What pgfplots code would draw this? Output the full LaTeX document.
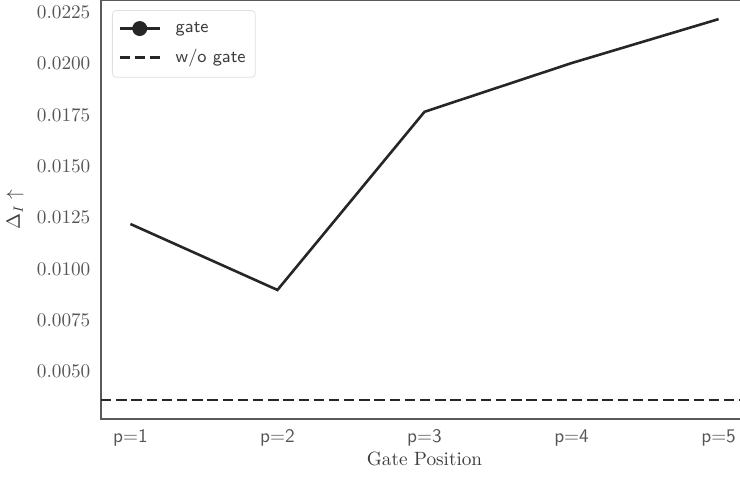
\documentclass[border=0pt]{standalone}
\usepackage{pgfplots}
\pgfplotsset{compat=1.18}
\usetikzlibrary{calc}
\definecolor{linec}{RGB}{38,38,38}
\definecolor{tickc}{RGB}{85,85,85}
\definecolor{labc}{RGB}{60,60,60}
\definecolor{spinec}{RGB}{90,90,90}
\begin{document}
\begin{tikzpicture}
\begin{axis}[
  scale only axis,
  width=336.44pt, height=217.88pt,
  xmin=0.8, xmax=5.2,
  ymin=0.0027, ymax=0.02309,
  axis line style={spinec, line width=0.7pt},
  tick style={draw=none},
  xtick={1,2,3,4,5},
  xticklabels={p=1,p=2,p=3,p=4,p=5},
  x tick label style={font=\sffamily, text=tickc, yshift=-2pt},
  ytick={0.005,0.0075,0.01,0.0125,0.015,0.0175,0.02,0.0225},
  scaled y ticks=false,
  y tick label style={text=tickc, xshift=-2pt, /pgf/number format/fixed, /pgf/number format/fixed zerofill, /pgf/number format/precision=4},
  xlabel={Gate Position},
  ylabel={$\Delta_I\uparrow$},
  xlabel style={text=labc, yshift=4pt},
  ylabel style={text=labc},
  legend style={at={(0.017,0.976)}, anchor=north west, draw=gray!25, rounded corners=2pt,
    font=\sffamily\fontsize{9.3}{11.5}\selectfont, text=labc, row sep=3.5pt, inner xsep=3pt, inner ysep=4pt,
    /tikz/every odd column/.append style={column sep=5.5pt}},
  legend cell align=left,
]
\addplot[linec, line width=1.35pt,
  legend image code/.code={\draw[linec, line width=1.35pt] (0cm,0cm) -- (21pt,0cm); \fill[linec] (10.5pt,0cm) circle (3.2pt);}]
  coordinates {(1,0.01219) (2,0.00898) (3,0.01765) (4,0.02002) (5,0.02216)};
\addlegendentry{gate}
\addplot[linec, line width=1.45pt, dash pattern=on 5.4pt off 2.5pt,
  legend image code/.code={\draw[linec, line width=1.45pt, dash pattern=on 5.4pt off 2.5pt] (0cm,0cm) -- (21pt,0cm);}]
  coordinates {(0.8,0.00363) (5.2,0.00363)};
\addlegendentry{w/o gate}
\end{axis}
\pgfresetboundingbox
\path[use as bounding box] ($(current axis.south west)+(-52.52pt,-31.72pt)$) rectangle ++(384.8pt,249.6pt);
\end{tikzpicture}
\end{document}
